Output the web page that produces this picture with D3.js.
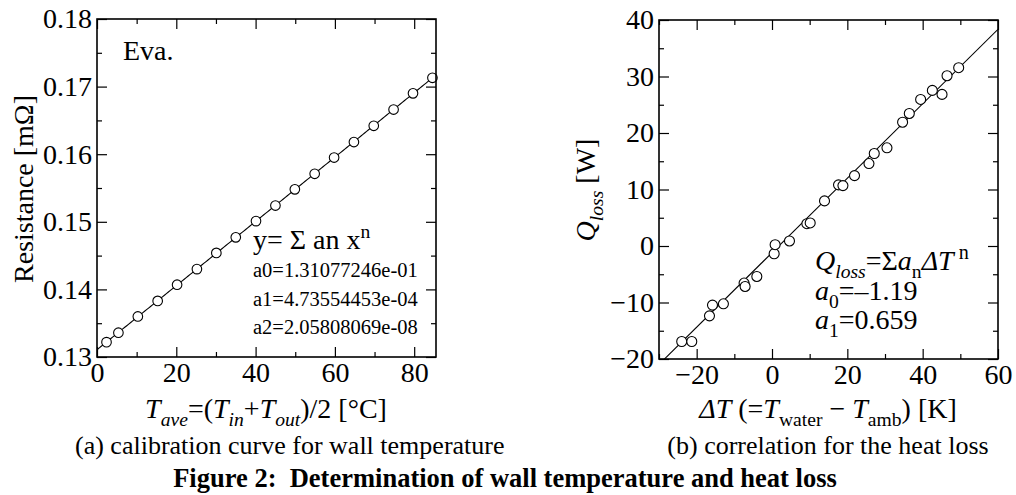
<!DOCTYPE html>
<html><head><meta charset="utf-8">
<script src="https://cdn.jsdelivr.net/npm/d3@7"></script>
<style>
body{margin:0;background:#fff}
text{font-family:"Liberation Serif","Times New Roman",serif;fill:#000}
</style>
</head><body><svg id="c" width="1016" height="495"></svg>
<script>
// ---- data ----
const calibT = [2.4,5.4,10.3,15.3,20.2,25.2,30.1,35.0,40.1,45.0,49.9,54.9,59.8,64.8,69.8,74.8,79.7,84.6];
const calibR = [0.1322,0.1336,0.1360,0.1383,0.1407,0.1430,0.1454,0.1477,0.1501,0.1524,0.1548,0.1571,0.1595,0.1618,0.1642,0.1666,0.1690,0.1713];
const calibFitCoef = [1.31077246e-01, 4.73554453e-04, 2.05808069e-08];
const calibXTicks = [0,20,40,60,80];
const calibXMinor = [10,30,50,70];
const calibYTicks = [0.13,0.14,0.15,0.16,0.17,0.18];
const calibYMinor = [0.135,0.145,0.155,0.165,0.175];

const lossDT = [-23.97,-21.3,-16.6,-15.8,-12.9,-7.41,-7.14,-4.03,0.57,0.83,4.64,9.26,10.14,13.94,17.66,18.83,21.91,25.74,27.15,30.52,34.67,36.45,39.46,42.57,45.14,46.47,49.56];
const lossQ  = [-16.9,-16.9,-12.36,-10.46,-10.23,-6.56,-7.16,-5.39,-1.37,0.23,0.89,3.95,4.08,7.98,10.82,10.69,12.46,14.59,16.37,17.38,21.91,23.46,25.94,27.54,26.83,30.14,31.56];
const lossFitCoef = [-1.19, 0.659];
const lossXTicks = [-20,0,20,40,60];
const lossXMinor = [-30,-10,10,30,50];
const lossYTicks = [-20,-10,0,10,20,30,40];
const lossYMinor = [-15,-5,5,15,25,35];

const svg = d3.select("#c");
const SERIF = '"Liberation Serif","Times New Roman",serif';

function rich(sel, x, y, parts, size, anchor){
  const t = sel.append("text").attr("x",x).attr("y",y)
    .attr("font-size",size).attr("text-anchor",anchor||"start")
    .style("white-space","pre");
  let cur = 0;
  parts.forEach(p=>{
    const target = p.sub ? 0.28 : (p.sup ? -0.4 : 0);
    const s = t.append("tspan").text(p.t);
    if (target !== cur) s.attr("dy", ((target-cur)*size).toFixed(2));
    cur = target;
    if (p.sub || p.sup) s.attr("font-size", size*(p.fs||0.7));
    if (p.i) s.attr("font-style","italic");
  });
  return t;
}

function frame(g, x, y, W, H, xt, xm, yt, ym, xfmt, yfmt){
  const lw = 1.6, MAJ = 10, MIN = 5, FS = 28;
  g.append("g").attr("transform",`translate(0,${H})`)
    .call(d3.axisBottom(x).tickValues(xt).tickSizeInner(-MAJ).tickSizeOuter(0).tickPadding(5).tickFormat(xfmt));
  g.append("g").attr("transform",`translate(0,${H})`)
    .call(d3.axisBottom(x).tickValues(xm).tickSizeInner(-MIN).tickSizeOuter(0).tickFormat(""));
  g.append("g").call(d3.axisTop(x).tickValues(xt).tickSizeInner(-MAJ).tickSizeOuter(0).tickFormat(""));
  g.append("g").call(d3.axisTop(x).tickValues(xm).tickSizeInner(-MIN).tickSizeOuter(0).tickFormat(""));
  g.append("g").call(d3.axisLeft(y).tickValues(yt).tickSizeInner(-MAJ).tickSizeOuter(0).tickPadding(5).tickFormat(yfmt));
  g.append("g").call(d3.axisLeft(y).tickValues(ym).tickSizeInner(-MIN).tickSizeOuter(0).tickFormat(""));
  g.append("g").attr("transform",`translate(${W},0)`)
    .call(d3.axisRight(y).tickValues(yt).tickSizeInner(-MAJ).tickSizeOuter(0).tickFormat(""));
  g.append("g").attr("transform",`translate(${W},0)`)
    .call(d3.axisRight(y).tickValues(ym).tickSizeInner(-MIN).tickSizeOuter(0).tickFormat(""));
  g.selectAll(".domain").remove();
  g.selectAll(".tick line").attr("stroke","#000").attr("stroke-width",1.2);
  g.selectAll(".tick text").attr("font-size",FS).attr("font-family",SERIF).attr("fill","#000");
  g.append("rect").attr("width",W).attr("height",H).attr("fill","none").attr("stroke","#000").attr("stroke-width",lw);
}

// ---------- panel (a) ----------
{
  const L=97, T=19, W=339, H=338;
  const g = svg.append("g").attr("transform",`translate(${L},${T})`);
  const x = d3.scaleLinear().domain([0,85.5]).range([0,W]);
  const y = d3.scaleLinear().domain([0.13,0.18]).range([H,0]);
  g.append("clipPath").attr("id","clipA").append("rect").attr("width",W).attr("height",H);
  const fx = d3.range(0, 85.5+0.01, 0.5);
  const poly = v => calibFitCoef.reduce((s,c,i)=>s+c*Math.pow(v,i),0);
  g.append("path").datum(fx).attr("clip-path","url(#clipA)")
    .attr("d", d3.line().x(d=>x(d)).y(d=>y(poly(d))))
    .attr("fill","none").attr("stroke","#000").attr("stroke-width",1.1);
  g.selectAll("circle").data(calibT).join("circle")
    .attr("cx",(d)=>x(d)).attr("cy",(d,i)=>y(calibR[i])).attr("r",4.8)
    .attr("fill","#fff").attr("stroke","#000").attr("stroke-width",1.1);
  frame(g,x,y,W,H,calibXTicks,calibXMinor,calibYTicks,calibYMinor,d3.format("d"),d3.format(".2f"));
  g.append("text").attr("x",26).attr("y",41).attr("font-size",28).text("Eva.");
  rich(g,156,230,[{t:"y= Σ an x"},{t:"n",sup:true,fs:0.7}],28);
  ["a0=1.31077246e-01","a1=4.73554453e-04","a2=2.05808069e-08"].forEach((s,i)=>{
    g.append("text").attr("x",156).attr("y",258+i*28.5).attr("font-size",20.5).text(s);
  });
}
rich(svg,266,418,[{t:"T",i:true},{t:"ave",i:true,sub:true},{t:"=(",},{t:"T",i:true},{t:"in",i:true,sub:true},{t:"+"},{t:"T",i:true},{t:"out",i:true,sub:true},{t:")/2 [°C]"}],28,"middle");
svg.append("text").attr("transform","translate(33,189) rotate(-90)").attr("text-anchor","middle").attr("font-size",28).text("Resistance [mΩ]");
svg.append("text").attr("x",75).attr("y",454).attr("font-size",26).text("(a) calibration curve for wall temperature");

// ---------- panel (b) ----------
{
  const L=659, T=20, W=339, H=339;
  const g = svg.append("g").attr("transform",`translate(${L},${T})`);
  const x = d3.scaleLinear().domain([-30,60]).range([0,W]);
  const y = d3.scaleLinear().domain([-20,40]).range([H,0]);
  g.append("clipPath").attr("id","clipB").append("rect").attr("width",W).attr("height",H);
  const fx = [-30, 60];
  const lin = v => lossFitCoef[0] + lossFitCoef[1]*v;
  g.append("path").datum(fx).attr("clip-path","url(#clipB)")
    .attr("d", d3.line().x(d=>x(d)).y(d=>y(lin(d))))
    .attr("fill","none").attr("stroke","#000").attr("stroke-width",1.1);
  g.selectAll("circle").data(lossDT).join("circle")
    .attr("cx",(d)=>x(d)).attr("cy",(d,i)=>y(lossQ[i])).attr("r",5)
    .attr("fill","#fff").attr("stroke","#000").attr("stroke-width",1.1);
  frame(g,x,y,W,H,lossXTicks,lossXMinor,lossYTicks,lossYMinor,d3.format("d"),d3.format("d"));
  rich(g,156,250,[{t:"Q",i:true},{t:"loss",i:true,sub:true},{t:"=Σ"},{t:"a",i:true},{t:"n",sub:true},{t:"ΔT",i:true},{t:" n",sup:true,fs:0.72}],28);
  rich(g,156,280,[{t:"a",i:true},{t:"0",sub:true},{t:"=–1.19"}],28);
  rich(g,156,309,[{t:"a",i:true},{t:"1",sub:true},{t:"=0.659"}],28);
}
rich(svg,828,418,[{t:"ΔT",i:true},{t:" (="},{t:"T",i:true},{t:"water",sub:true},{t:" − "},{t:"T",i:true},{t:"amb",sub:true},{t:") [K]"}],28,"middle");
{
  const t = svg.append("text").attr("transform","translate(595,190) rotate(-90)").attr("text-anchor","middle").attr("font-size",28);
  t.append("tspan").attr("font-style","italic").text("Q");
  t.append("tspan").attr("font-style","italic").attr("font-size",19.6).attr("dy",8).text("loss");
  t.append("tspan").attr("dy",-8).text(" [W]");
}
svg.append("text").attr("x",828).attr("y",454).attr("text-anchor","middle").attr("font-size",26).text("(b) correlation for the heat loss");

svg.append("text").attr("x",505).attr("y",487).attr("text-anchor","middle").attr("font-size",26.5).attr("font-weight","bold").style("white-space","pre").text("Figure 2:  Determination of wall temperature and heat loss");
</script></body></html>
